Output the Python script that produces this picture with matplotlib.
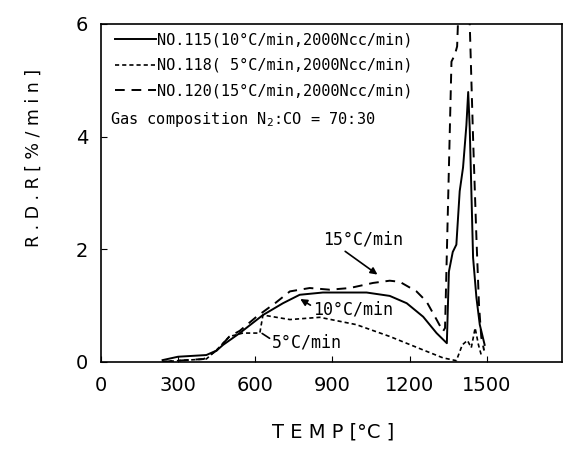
import matplotlib
matplotlib.use("Agg")
import matplotlib.pyplot as plt

# 10 C/min (NO.115)
temp_10 = [240, 300, 410, 450, 475, 540, 630, 708, 773, 863, 1033, 1123, 1189,
           1253, 1305, 1345, 1353, 1368, 1382, 1395, 1408, 1421, 1428, 1434,
           1447, 1460, 1473, 1492]
rdr_10 = [0.03, 0.09, 0.12, 0.2, 0.3, 0.51, 0.83, 1.04, 1.19, 1.23, 1.23, 1.17,
          1.04, 0.8, 0.51, 0.33, 1.6, 1.95, 2.08, 3.03, 3.45, 4.2, 4.79, 4.15,
          1.85, 1.14, 0.66, 0.3]

# 5 C/min (NO.118)
temp_5 = [240, 300, 410, 450, 500, 527, 552, 618, 630, 735, 851, 993, 1123,
          1253, 1330, 1382, 1405, 1425, 1440, 1455, 1468, 1480]
rdr_5 = [0.0, 0.02, 0.05, 0.21, 0.45, 0.48, 0.51, 0.51, 0.83, 0.75, 0.79, 0.66,
         0.45, 0.21, 0.07, 0.02, 0.3, 0.38, 0.25, 0.6, 0.3, 0.1]

# 15 C/min (NO.120)
temp_15 = [240, 300, 400, 450, 500, 540, 605, 680, 735, 812, 890, 968, 1058,
           1123, 1162, 1227, 1266, 1305, 1330, 1338, 1363, 1376, 1385, 1392,
           1430, 1434, 1447, 1460, 1470, 1479, 1490]
rdr_15 = [0.0, 0.02, 0.05, 0.2, 0.45, 0.55, 0.8, 1.05, 1.25, 1.31, 1.28, 1.31,
          1.40, 1.44, 1.42, 1.25, 1.07, 0.75, 0.54, 0.6, 5.33, 5.45, 5.6, 6.5,
          6.5, 6.0, 3.97, 2.2, 1.01, 0.43, 0.2]

labels = [
    "NO.115(10°C/min,2000Ncc/min)",
    "NO.118( 5°C/min,2000Ncc/min)",
    "NO.120(15°C/min,2000Ncc/min)",
]

fig = plt.figure(figsize=(5.73, 4.5), dpi=100)
ax = fig.add_axes([0.176, 0.196, 0.8045, 0.751])

ax.plot(temp_10, rdr_10, color="black", lw=1.4, label=labels[0])
ax.plot(temp_5, rdr_5, color="black", lw=1.2, dashes=(2.5, 1.8), label=labels[1])
ax.plot(temp_15, rdr_15, color="black", lw=1.4, dashes=(5, 3.5), label=labels[2])

ax.set_xlim(0, 1792)
ax.set_ylim(0, 6)
ax.set_xticks([0, 300, 600, 900, 1200, 1500])
ax.set_yticks([0, 2, 4, 6])
ax.tick_params(direction="in", length=4, labelsize=14)
ax.tick_params(axis="x", pad=10)
ax.tick_params(axis="y", pad=9)
for s in ax.spines.values():
    s.set_linewidth(1.2)

leg = ax.legend(loc="upper left", bbox_to_anchor=(0.03, 0.975), frameon=False,
                prop={"family": "DejaVu Sans Mono", "size": 11},
                handlelength=2.7, handletextpad=0.1, labelspacing=0.7,
                borderpad=0, borderaxespad=0)

ax.text(0.02, 0.716, "Gas composition N$_2$:CO = 70:30", transform=ax.transAxes,
        family="DejaVu Sans Mono", fontsize=11, va="center")

mono = "DejaVu Sans Mono"
ax.annotate("", xy=(1084, 1.52), xytext=(941, 1.99),
            arrowprops=dict(arrowstyle="-|>", color="black", lw=1.2))
ax.text(863, 2.17, "15°C/min", family=mono, fontsize=12, va="center")
ax.annotate("", xy=(766, 1.14), xytext=(824, 0.98),
            arrowprops=dict(arrowstyle="-|>", color="black", lw=1.2))
ax.text(824, 0.92, "10°C/min", family=mono, fontsize=12, va="center")
ax.annotate("", xy=(618, 0.53), xytext=(665, 0.39),
            arrowprops=dict(arrowstyle="-", color="black", lw=1.2))
ax.text(665, 0.34, "5°C/min", family=mono, fontsize=12, va="center")

fig.text(0.581, 0.04, "T E M P [°C ]", ha="center", va="center", fontsize=14)
fig.text(0.059, 0.649, "R . D . R [ % / m i n ]", ha="center", va="center",
         rotation=90, fontsize=12.5)

fig.savefig("out.png", dpi=100)
